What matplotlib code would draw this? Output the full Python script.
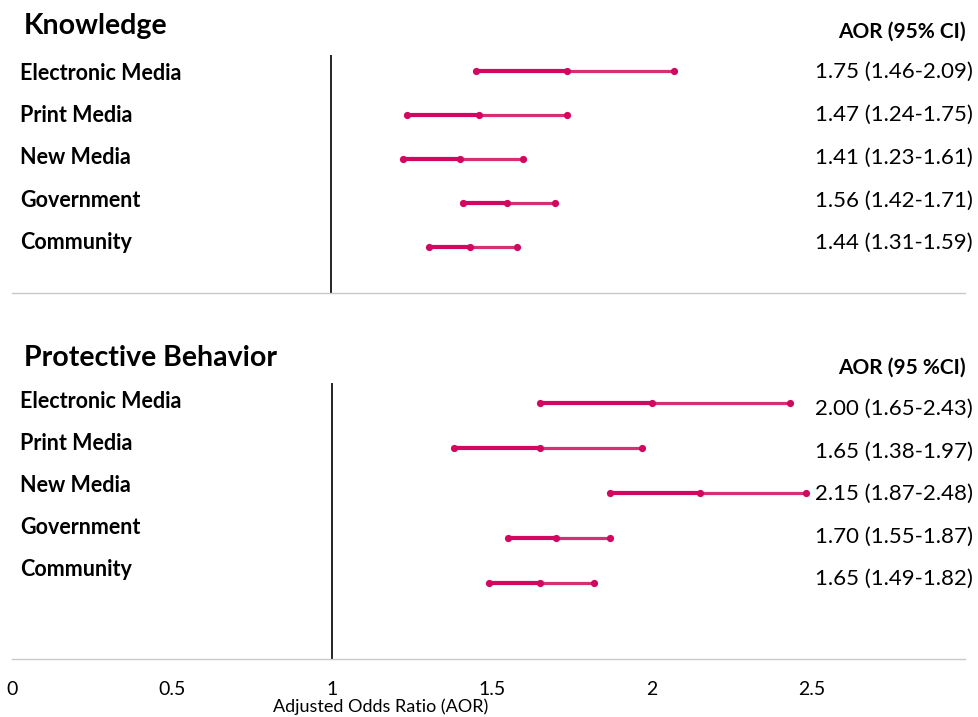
import matplotlib

matplotlib.use("Agg")
import matplotlib.pyplot as plt

plt.rcParams["font.family"] = ["Lato", "DejaVu Sans"]

# Adjusted odds ratios with 95% CI, by information source
sources = ["Electronic Media", "Print Media", "New Media", "Government", "Community"]

know_aor = [1.75, 1.47, 1.41, 1.56, 1.44]
know_lo = [1.46, 1.24, 1.23, 1.42, 1.31]
know_hi = [2.09, 1.75, 1.61, 1.71, 1.59]

behav_aor = [2.00, 1.65, 2.15, 1.70, 1.65]
behav_lo = [1.65, 1.38, 1.87, 1.55, 1.49]
behav_hi = [2.43, 1.97, 2.48, 1.87, 1.82]

x_ticks = [0, 0.5, 1, 1.5, 2, 2.5]
x_ticklabels = ["0", "0.5", "1", "1.5", "2", "2.5"]

W, H = 979, 717
DARK = "#d1085f"
LIGHT = "#d62f74"


def fy(px):
    return 1 - px / H


def fx(px):
    return px / W


def panel(top_px, bottom_px, xlim, ylim, aor, lo, hi):
    ax = fig.add_axes([fx(12), fy(bottom_px), fx(953), (bottom_px - top_px) / H])
    rows = range(len(aor))
    for i in rows:
        ax.plot([lo[i], aor[i]], [i, i], color=DARK, lw=3.0, solid_capstyle="butt", zorder=2)
        ax.plot([aor[i], hi[i]], [i, i], color=LIGHT, lw=2.3, solid_capstyle="butt", zorder=2)
        ax.plot([lo[i], aor[i], hi[i]], [i, i, i], "o", color=DARK, ms=5.2, mec="none", zorder=3)
    ax.axvline(1, color="black", lw=1.2, zorder=1)
    ax.set_xlim(*xlim)
    ax.set_ylim(*ylim)
    for side in ("top", "left", "right"):
        ax.spines[side].set_visible(False)
    ax.spines["bottom"].set_color("#c8c8c8")
    ax.spines["bottom"].set_linewidth(1.0)
    ax.set_yticks([])
    return ax


def side_text(title, title_px, head, head_px, lab_px, lab_step, val_px, val_step, aor, lo, hi):
    fig.text(fx(24), fy(title_px), title, fontsize=20.5, fontweight="bold", va="center")
    fig.text(fx(966), fy(head_px), head, fontsize=15, fontweight="bold", ha="right", va="center")
    for i, name in enumerate(sources):
        fig.text(fx(20), fy(lab_px + lab_step * i), name, fontsize=15.5,
                 fontweight="bold", va="center")
        fig.text(fx(973), fy(val_px + val_step * i),
                 f"{aor[i]:.2f} ({lo[i]:.2f}-{hi[i]:.2f})", fontsize=16,
                 ha="right", va="center")


fig = plt.figure(figsize=(W / 100, H / 100), dpi=100)

ax1 = panel(55, 293, (-0.0127, 3.013), (5.045, -0.364), know_aor, know_lo, know_hi)
ax1.set_xticks([])

ax2 = panel(383, 659, (0, 2.978), (5.689, -0.444), behav_aor, behav_lo, behav_hi)
ax2.set_xticks(x_ticks)
ax2.set_xticklabels(x_ticklabels, fontsize=14)
ax2.tick_params(axis="x", length=0, pad=16)

side_text("Knowledge", 26, "AOR (95% CI)", 32, 73, 42.5, 72, 42.8,
          know_aor, know_lo, know_hi)
side_text("Protective Behavior", 358, "AOR (95 %CI)", 368, 401, 42.2, 409, 42.5,
          behav_aor, behav_lo, behav_hi)

fig.text(fx(381), fy(707), "Adjusted Odds Ratio (AOR)", fontsize=13, ha="center", va="center")

fig.savefig("out.png", dpi=100)
